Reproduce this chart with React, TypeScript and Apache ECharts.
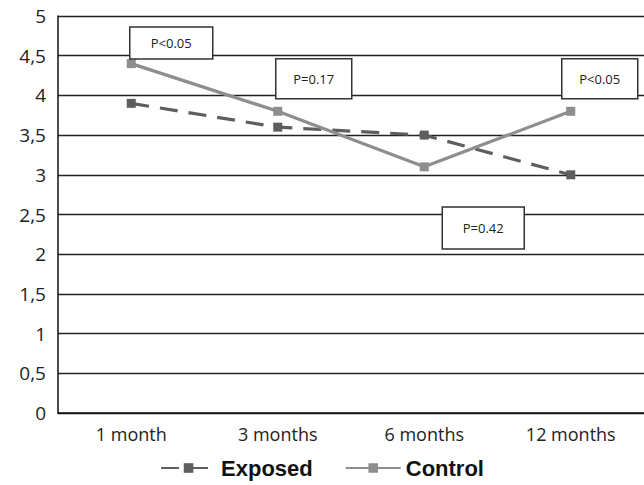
import React, { useEffect, useRef } from "react";
import * as echarts from "echarts";

const categories = ["1 month", "3 months", "6 months", "12 months"];
const exposed = [3.9, 3.6, 3.5, 3.0];
const control = [4.4, 3.8, 3.1, 3.8];
// annotations: text, category index, value (anchor), x offset in px, box width, box height
const annText = ["P<0.05", "P=0.17", "P<0.05", "P=0.42"];
const annCat = [0, 1, 3, 2];
const annValue = [4.66, 4.21, 4.21, 2.33];
const annDx = [40, 36, 29, 59];
const annW = [83, 76, 76, 82];
const annH = [32, 40, 40, 42];

export default function App() {
  const ref = useRef<HTMLDivElement>(null);
  useEffect(() => {
    const chart = echarts.init(ref.current!, null, { renderer: "svg" });
    chart.setOption({
      animation: false,
      backgroundColor: "#fff",
      grid: { left: 58, right: 0, top: 16, bottom: 72 },
      xAxis: {
        type: "category",
        data: categories,
        boundaryGap: true,
        axisLine: { lineStyle: { color: "#111", width: 1.5 } },
        axisTick: { show: false },
        axisLabel: { color: "#222", fontSize: 18, fontFamily: "Open Sans", margin: 12 },
      },
      yAxis: {
        type: "value",
        min: 0,
        max: 5,
        interval: 0.5,
        axisLine: { show: true, lineStyle: { color: "#111", width: 1.5 } },
        axisTick: { show: false },
        splitLine: { lineStyle: { color: "#222", width: 1.3 } },
        axisLabel: {
          color: "#222",
          fontSize: 19,
          fontFamily: "Open Sans",
          margin: 12,
          formatter: (v: number) => String(v).replace(".", ","),
        },
      },
      legend: {
        bottom: 1,
        left: "center",
        itemWidth: 55,
        itemHeight: 12,
        itemGap: 32,
        textStyle: { fontSize: 22, fontWeight: "bold", fontFamily: "Liberation Sans", color: "#111" },
        data: ["Exposed", "Control"],
      },
      series: [
        {
          name: "Exposed",
          type: "line",
          data: exposed,
          symbol: "rect",
          symbolSize: 9,
          itemStyle: { color: "#5e5e5e" },
          lineStyle: { color: "#5e5e5e", width: 3.2, type: [18, 11] },
        },
        {
          name: "Control",
          type: "line",
          data: control,
          symbol: "rect",
          symbolSize: 9,
          itemStyle: { color: "#8e8e8e" },
          lineStyle: { color: "#8e8e8e", width: 3.2 },
        },
      ],
    });
    const graphics = annText.map((t, i) => {
      const p = chart.convertToPixel({ gridIndex: 0 }, [annCat[i], annValue[i]]) as number[];
      const cx = p[0] + annDx[i];
      const cy = p[1];
      return {
        type: "group",
        children: [
          {
            type: "rect",
            shape: { x: cx - annW[i] / 2, y: cy - annH[i] / 2, width: annW[i], height: annH[i] },
            style: { fill: "#fff", stroke: "#333", lineWidth: 1.5 },
            z: 10,
          },
          {
            type: "text",
            x: cx,
            y: cy,
            style: {
              text: t,
              fill: "#222",
              fontSize: 13,
              fontFamily: "Open Sans",
              align: "center",
              verticalAlign: "middle",
            },
            z: 11,
          },
        ],
      };
    });
    chart.setOption({ graphic: graphics });
    return () => chart.dispose();
  }, []);
  return (
    <div
      ref={ref}
      style={{ position: "fixed", left: 0, top: 0, width: 644, height: 485 }}
    />
  );
}
